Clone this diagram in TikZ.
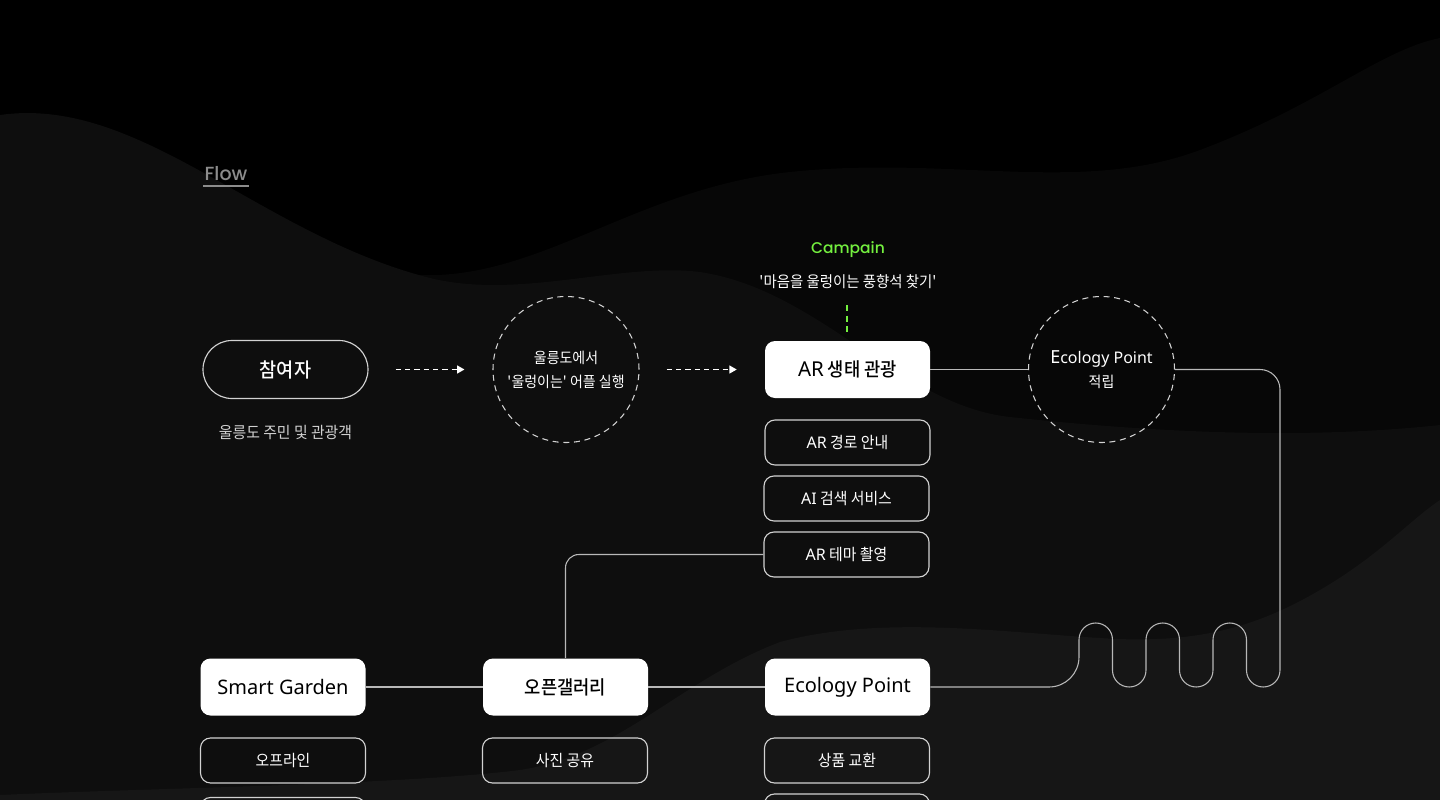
\documentclass[tikz,border=0pt]{standalone}
\usepackage{fontspec}
\setmainfont{Noto Sans CJK KR}[FakeStretch=0.93]
\newfontfamily\krm{Noto Sans CJK KR}[UprightFont={* Medium}, FakeStretch=0.93]
\newfontfamily\lat{Noto Sans}
\newfontfamily\popp{Poppins}[UprightFont={* Medium}]
\usetikzlibrary{arrows.meta}
\newcommand\pxf[2]{\fontsize{\dimexpr #1pt*3/4\relax}{\dimexpr #2pt*3/4\relax}\selectfont}
\definecolor{bgA}{HTML}{070707}
\definecolor{bgB}{HTML}{0E0E0E}
\definecolor{bgC}{HTML}{161616}
\definecolor{edgec}{HTML}{D2D2D2}
\definecolor{wirec}{HTML}{B8B8B8}
\definecolor{limec}{HTML}{74F03F}
\definecolor{flowgray}{HTML}{8C8C8C}
\definecolor{subtxt}{HTML}{D0D0D0}
\begin{document}
\begin{tikzpicture}[x=0.75pt,y=-0.75pt,
 wbox/.style={fill=white, rounded corners=7.5pt, minimum width=123.75pt, minimum height=42.75pt, inner sep=0pt, text=black, font=\krm\pxf{19}{23}},
 obox/.style={draw=edgec, line width=0.85pt, rounded corners=7.5pt, minimum width=123.75pt, minimum height=33.75pt, inner sep=0pt, text=white, font=\pxf{16}{20}},
 pillbox/.style={draw=edgec, line width=0.85pt, rounded corners=21.7pt, minimum width=123.75pt, minimum height=43.5pt, inner sep=0pt, text=white, font=\krm\pxf{20}{24}},
 dcirc/.style={circle, draw=edgec, line width=0.8pt, dash pattern=on 4.5pt off 3.5pt, minimum size=109.5pt, inner sep=0pt, text=white, align=center, font=\pxf{15}{24}},
 wirestyle/.style={draw=wirec, line width=0.8pt},
 darrow/.style={draw=white, line width=0.9pt, dash pattern=on 4pt off 3pt, -{Triangle[length=5.5pt,width=6pt]}},
 gdash/.style={draw=limec, line width=1.5pt, dash pattern=on 4.5pt off 3.5pt},
 lbl/.style={inner sep=0pt, text=white},
]
\useasboundingbox (0,0) rectangle (1440,800);
\clip (0,0) rectangle (1440,800);
% background
\fill[black] (0,0) rectangle (1440,800);
\fill[bgA] (380,270) .. controls (520,300) and (620,190) .. (790,172) .. controls (950,155) and (1080,195) .. (1200,150) .. controls (1320,105) and (1380,50) .. (1440,38) -- (1440,800) -- (380,800) -- cycle;
\fill[bgB] (0,115) .. controls (140,95) and (260,235) .. (430,278) .. controls (520,300) and (620,262) .. (700,272) .. controls (820,290) and (900,405) .. (1010,417) .. controls (1150,432) and (1300,440) .. (1440,425) -- (1440,800) -- (0,800) -- cycle;
\fill[bgC] (0,795) .. controls (150,788) and (400,785) .. (520,770) .. controls (620,755) and (680,680) .. (780,642) .. controls (880,615) and (1000,632) .. (1100,638) .. controls (1200,645) and (1260,625) .. (1320,590) .. controls (1380,555) and (1410,520) .. (1440,500) -- (1440,800) -- (0,800) -- cycle;

% title
\node[lbl, font=\popp\pxf{19}{22}, text=flowgray] (flow) at (226,174) {Flow};
\draw[flowgray, line width=1.5pt] (203,186) -- (249,186);

% campaign
\node[lbl, font=\popp\pxf{15.5}{18}, text=limec] (camp) at (848,250) {Campain};
\node[lbl, font=\pxf{15.5}{18}] (quote) at (848,282) {\textquotesingle 마음을 울렁이는 풍향석 찾기\textquotesingle};

% top row
\node[pillbox] (p) at (285.5,369.5) {참여자};
\node[lbl, font=\pxf{16}{18}, text=subtxt] (plab) at (285.5,433) {울릉도 주민 및 관광객};
\node[dcirc] (c1) at (566,369.5) {울릉도에서\\\textquotesingle 울렁이는\textquotesingle\ 어플 실행};
\node[wbox] (ar) at (847.5,369.5) {{\lat\pxf{20.5}{24}AR} 생태 관광};
\node[dcirc] (c2) at (1101.5,369.5) {{\lat\pxf{16}{24}{\pxf{18}{24}E}cology Point}\\적립};

\coordinate (gtop) at (847,305);
\draw[gdash, shorten >=6pt] (gtop) -- (gtop |- ar.north);

\draw[darrow, shorten <=20.25pt, shorten >=21pt] (p.east) -- (c1.west);
\draw[darrow, shorten <=20.25pt, shorten >=21pt] (c1.east) -- (ar.west);

% AR sub boxes
\node[obox] (o1) at (847.5,442.5) {{\lat AR} 경로 안내};
\node[obox] (o2) at (846.5,498.5) {{\lat AI} 검색 서비스};
\node[obox] (o3) at (846.5,554.5) {{\lat AR} 테마 촬영};

% bottom row
\node[wbox, font=\lat\pxf{20}{24}] (sg) at (283,687) {Smart Garden};
\node[wbox] (og) at (565.5,687) {오픈갤러리};
\node[wbox, font=\lat\pxf{20}{24}] (ep) at (847.5,687) {Ecology Point};

\node[obox] (b1) at (283,760.5) {오프라인};
\node[obox] (b2) at (565,760.5) {사진 공유};
\node[obox] (b3) at (847,760.5) {상품 교환};
\node[obox] (b4) at (283,820) {};
\node[obox] (b5) at (847,816.5) {};

% connectors
\draw[wirestyle] (ar.east) -- (c2.west);
\draw[wirestyle] (sg.east) -- (og.west);
\draw[wirestyle] (og.east) -- (ep.west);
\draw[wirestyle, rounded corners=10pt] (o3.west) -| (og.north);
\draw[wirestyle] (ep.east) -- (1049,687) arc[start angle=90, end angle=0, radius=30]
  -- (1079,639.75) arc[start angle=180, end angle=360, radius=16.75]
  -- (1112.5,670.25) arc[start angle=180, end angle=0, radius=16.75]
  -- (1146,639.75) arc[start angle=180, end angle=360, radius=16.75]
  -- (1179.5,670.25) arc[start angle=180, end angle=0, radius=16.75]
  -- (1213,639.75) arc[start angle=180, end angle=360, radius=16.75]
  -- (1246.5,670.25) arc[start angle=180, end angle=0, radius=16.75]
  -- (1280,389.5) arc[start angle=0, end angle=-90, radius=20]
  -- (c2.east);
\end{tikzpicture}
\end{document}
